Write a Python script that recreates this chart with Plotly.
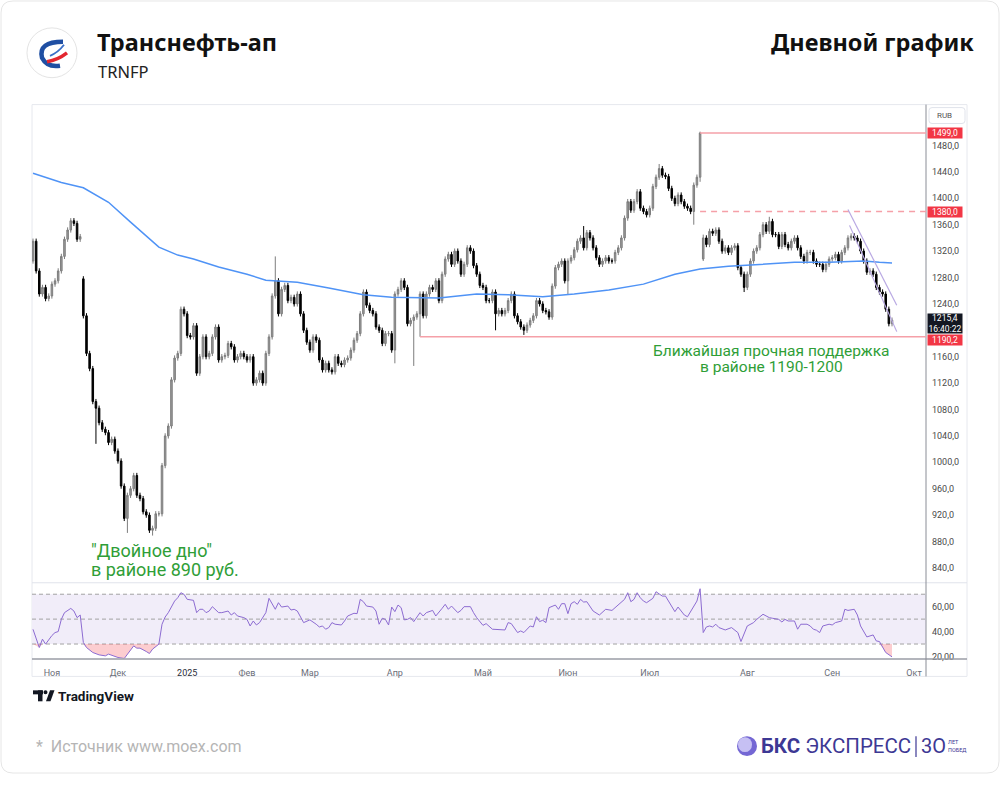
import plotly.graph_objects as go

# ---------------- DATA ----------------
closes = [
    # late Oct - Nov 2024
    1335, 1290, 1255, 1265, 1248, 1252, 1270, 1275, 1290, 1312, 1338, 1352, 1366, 1362, 1338, 1342,
    # decline into the double bottom and recovery
    1222, 1165, 1142, 1092, 1082, 1060, 1050, 1045, 1030, 1035, 1017, 1002, 964, 915, 950, 960,
    980, 950, 945, 925, 920, 897, 900, 922, 922, 995, 1040, 1055, 1125, 1158, 1165, 1232, 1225,
    1192, 1190, 1207, 1135, 1160, 1190, 1160, 1165, 1190, 1205, 1155, 1160, 1162, 1180, 1175,
    1155, 1160, 1165, 1160, 1155, 1160,
    # Feb - Apr 2025
    1120, 1125, 1135, 1120, 1165, 1190, 1252, 1275, 1225, 1262, 1268, 1245, 1250, 1240, 1255,
    1225, 1200, 1182, 1170, 1190, 1185, 1155, 1140, 1150, 1140, 1137, 1160, 1150, 1148, 1155,
    1158, 1170, 1185, 1195, 1225, 1258, 1238, 1230, 1225, 1205, 1200, 1180, 1195, 1195, 1170,
    1255, 1262, 1275, 1265, 1210, 1215, 1220, 1225, 1255, 1222, 1255, 1265, 1262, 1275, 1245,
    1285, 1308, 1315, 1300, 1320, 1305, 1285, 1300, 1325, 1320, 1298, 1285,
    # May - Jul 2025
    1268, 1265, 1245, 1245, 1258, 1225, 1230, 1225, 1230, 1245, 1255, 1222, 1213, 1205, 1200,
    1208, 1215, 1222, 1245, 1240, 1230, 1228, 1220, 1267, 1295, 1300, 1305, 1275, 1305, 1310,
    1322, 1335, 1340, 1325, 1348, 1340, 1325, 1310, 1300, 1305, 1310, 1305, 1305, 1318, 1325,
    1340, 1370, 1395, 1382, 1395, 1410, 1385, 1380, 1375, 1385, 1418, 1432, 1445, 1435, 1433,
    1415, 1400, 1392, 1405, 1395, 1388, 1385, 1380, 1420, 1432, 1499,
    # after the dividend gap, Jul - Sep 2025
    1340, 1330, 1350, 1347, 1352, 1335, 1320, 1325, 1318, 1325, 1328, 1295, 1285, 1265, 1285,
    1305, 1320, 1325, 1345, 1360, 1350, 1365, 1345, 1345, 1327, 1345, 1330, 1325, 1335, 1340,
    1325, 1312, 1305, 1318, 1318, 1305, 1300, 1300, 1292, 1300, 1308, 1310, 1315, 1305, 1318,
    1325, 1340, 1343, 1340, 1335, 1320, 1305, 1288, 1290, 1285, 1265, 1258, 1255, 1232, 1210,
    1215.4,
]
gap_opens = {0: 1305, 16: 1278, 213: 1308}
high_marks = {16: 1282, 77: 1312, 175: 1358, 199: 1452, 212: 1501, 213: 1345, 234: 1372}
low_marks = {20: 1028, 30: 893, 38: 889, 115: 1150, 121: 1146, 123: 1190.2, 147: 1200,
             156: 1193, 170: 1255, 210: 1360, 212: 1425, 213: 1305, 226: 1258}

ma_points = [(0, 1438), (9, 1424), (16, 1416), (24, 1394), (31, 1364), (40, 1326), (46, 1314),
             (51, 1308), (59, 1296), (68, 1285), (74, 1276), (84, 1273), (94, 1264), (105, 1254),
             (114, 1250), (122, 1249), (129, 1249), (141, 1255), (151, 1254), (162, 1251),
             (172, 1255), (183, 1261), (194, 1270), (204, 1285), (212, 1293), (221, 1297),
             (232, 1300), (242, 1303), (253, 1303), (264, 1305), (269, 1303), (273, 1302)]

rsi_points = [
    (0, 41.8), (2, 27.2), (3, 33.9), (4, 29.9), (6, 36.8), (7, 39.2), (8, 40), (9, 49.8), (10, 55.2),
    (12, 58.6), (13, 56.5), (14, 51.2), (15, 53.3), (16, 31.2), (17, 27.2), (19, 23.2), (21, 21.3),
    (23, 20.5), (24, 21.9), (27, 19.2), (29, 18.4), (30, 21.9), (32, 28.5), (33, 26.7), (34, 26.7),
    (36, 24), (37, 22.4), (38, 25.9), (40, 29.9), (41, 45.9), (42, 51.7), (43, 55.2), (44, 60.5),
    (45, 64.5), (46, 67.2), (47, 71.2), (48, 69.9), (49, 65.9), (51, 65.1), (52, 55.2), (53, 57.9),
    (54, 57.9), (55, 55.2), (56, 56.5), (57, 60), (59, 55.2), (60, 55.2), (62, 56.5), (63, 53.3),
    (64, 55.2), (65, 52.5), (67, 51.2), (68, 49.8), (69, 44.5), (70, 48.5), (71, 45.3), (72, 47.2),
    (74, 55.2), (75, 66.7), (77, 57.9), (78, 63.2), (79, 59.7), (81, 60.5), (82, 57.3), (83, 57.9),
    (84, 56.5), (86, 47.2), (87, 48.5), (88, 49.4), (90, 45.9), (91, 43.7), (92, 44.5), (93, 41.9),
    (94, 43.2), (95, 47.2), (96, 45.9), (98, 45.3), (99, 48.5), (100, 52.5), (102, 54.7), (103, 54.4),
    (104, 65.9), (105, 64), (106, 60.5), (108, 59.7), (109, 56.5), (110, 45.9), (111, 50.7),
    (112, 49.8), (113, 45.3), (114, 59.7), (115, 56), (116, 61.3), (117, 59.2), (118, 49.4),
    (119, 49.8), (120, 51.2), (121, 48), (122, 51.9), (123, 55.2), (124, 52.5), (125, 55.2),
    (127, 57), (128, 52.5), (130, 58.6), (131, 61.9), (132, 57.9), (133, 60.5), (135, 55.2),
    (136, 57), (137, 60), (139, 60), (140, 55.2), (141, 51.2), (143, 45), (144, 46.4), (146, 41.9),
    (148, 41.9), (150, 41.3), (151, 47.2), (152, 46.4), (154, 39.2), (155, 40.5), (156, 39.2),
    (158, 44.5), (159, 43.7), (160, 51.9), (161, 48), (162, 49.1), (163, 47.2), (164, 59.2),
    (166, 61.3), (167, 57.9), (168, 62.4), (169, 62.4), (170, 54.4), (171, 62.4), (172, 64),
    (173, 61.9), (174, 65.9), (175, 63.7), (176, 64), (178, 56.5), (180, 53.3), (182, 57.9),
    (184, 57), (186, 61.3), (187, 63.2), (188, 65.9), (189, 71.2), (190, 64), (191, 65.9),
    (192, 71.2), (193, 67.2), (194, 64.5), (195, 63.2), (197, 66.7), (198, 72), (200, 68.5),
    (201, 68.5), (202, 64.5), (204, 56), (205, 59.7), (207, 53.3), (208, 51.9), (210, 60.5),
    (211, 64.5), (212, 74.4), (213, 39.2), (214, 43.7), (215, 44.5), (216, 43.7), (217, 45.9),
    (218, 43.2), (220, 41.3), (222, 43.2), (224, 39.2), (225, 32), (227, 44.5), (229, 47.2),
    (230, 49.8), (232, 53.9), (234, 51.2), (235, 50.7), (237, 49.8), (238, 47.7), (239, 49.8),
    (240, 48.5), (242, 48.5), (243, 41.9), (244, 45.9), (246, 45.9), (247, 44.5), (248, 41.9),
    (249, 41.1), (250, 39.2), (251, 44.5), (253, 45.9), (254, 45.3), (255, 47.2), (257, 48.5),
    (258, 57.9), (259, 57), (261, 57.9), (262, 53.3), (263, 44.5), (264, 40.5), (265, 35.7),
    (267, 37.3), (268, 32.5), (269, 32), (270, 27.2), (271, 23.2), (273, 19.7),
]

month_idx = [6, 27, 49, 68, 88, 115, 143, 170, 196, 227, 254, 280]
month_txt = ["Ноя", "Дек", "<span style='color:#2a2e39'>2025</span>", "Фев", "Мар", "Апр",
             "Май", "Июн", "Июл", "Авг", "Сен", "Окт"]
price_ticks = [840, 880, 920, 960, 1000, 1040, 1080, 1120, 1160, 1240, 1280, 1320, 1360, 1400, 1440, 1480]
rsi_ticks = [20, 40, 60]

level_high, level_high_from = 1499.0, 212
level_mid, level_mid_from = 1380.0, 212
level_support, level_support_from = 1190.2, 123
last_price, last_time = 1215.4, "16:40:22"
channel_upper = [(259, 1383), (274.5, 1238)]
channel_lower = [(259.5, 1359), (274.5, 1198)]

# ---------------- derived OHLC ----------------
n = len(closes)
idx = list(range(n))
opens = [gap_opens.get(i, closes[i - 1] if i > 0 else closes[0]) for i in idx]
highs = [high_marks.get(i, max(opens[i], closes[i]) + 4) for i in idx]
lows = [low_marks.get(i, min(opens[i], closes[i]) - 4) for i in idx]
ma_x = [p[0] for p in ma_points]
ma_y = [p[1] for p in ma_points]
rsi_x = [p[0] for p in rsi_points]
rsi_y = [p[1] for p in rsi_points]

# ---------------- geometry helpers ----------------
W, H = 1000, 785
def px(x): return x / W
def py(y): return 1 - y / H

X_RANGE = [-0.32, 283.8]
PL, PR = 32, 926

fig = go.Figure()

# oversold fill
fig.add_trace(go.Scatter(x=rsi_x, y=[30] * len(rsi_x), xaxis="x2", yaxis="y2", mode="lines",
                         line=dict(width=0, color="rgba(0,0,0,0)"), hoverinfo="skip", showlegend=False))
fig.add_trace(go.Scatter(x=rsi_x, y=[min(v, 30) for v in rsi_y], xaxis="x2", yaxis="y2", mode="lines",
                         line=dict(width=0, color="rgba(0,0,0,0)"), fill="tonexty",
                         fillcolor="rgba(242,54,69,0.25)", hoverinfo="skip", showlegend=False))
fig.add_trace(go.Scatter(x=rsi_x, y=rsi_y, xaxis="x2", yaxis="y2", mode="lines",
                         line=dict(width=1, color="#8c6bd1"), hoverinfo="skip", showlegend=False))

fig.add_trace(go.Scatter(x=ma_x, y=ma_y, mode="lines", line=dict(width=1.5, color="#4f93f6"),
                         hoverinfo="skip", showlegend=False))
fig.add_trace(go.Candlestick(
    x=idx, open=opens, high=highs, low=lows, close=closes, whiskerwidth=0,
    increasing=dict(line=dict(color="#7d7d7d", width=1), fillcolor="#9c9c9c"),
    decreasing=dict(line=dict(color="#000000", width=1), fillcolor="#000000"),
    hoverinfo="skip", showlegend=False))

shapes = []
def rr(x0, y0, x1, y1, r):
    return (f"M {px(x0+r)},{py(y0)} L {px(x1-r)},{py(y0)} Q {px(x1)},{py(y0)} {px(x1)},{py(y0+r)} "
            f"L {px(x1)},{py(y1-r)} Q {px(x1)},{py(y1)} {px(x1-r)},{py(y1)} L {px(x0+r)},{py(y1)} "
            f"Q {px(x0)},{py(y1)} {px(x0)},{py(y1-r)} L {px(x0)},{py(y0+r)} Q {px(x0)},{py(y0)} {px(x0+r)},{py(y0)} Z")

shapes.append(dict(type="path", xref="paper", yref="paper", path=rr(1, 1, 999, 776, 12),
                   line=dict(color="#e6e6e6", width=1), fillcolor="rgba(0,0,0,0)", layer="below"))
# chart frame
shapes.append(dict(type="rect", xref="paper", yref="paper", x0=px(32), x1=px(967), y0=py(679), y1=py(105),
                   line=dict(color="#e6e8ee", width=1), layer="below"))
# rsi band
shapes.append(dict(type="rect", xref="paper", yref="y2", x0=px(PL), x1=px(PR), y0=30, y1=70,
                   line=dict(width=0), fillcolor="#f1edf9", layer="below"))
for lv in (70, 50, 30):
    shapes.append(dict(type="line", xref="paper", yref="y2", x0=px(PL), x1=px(PR), y0=lv, y1=lv,
                       line=dict(color="#a3a3a3", width=1, dash="4px,3px"), layer="below"))
# separators and axis lines
shapes.append(dict(type="line", xref="paper", yref="paper", x0=px(32), x1=px(967), y0=py(585), y1=py(585),
                   line=dict(color="#e0e3eb", width=1)))
shapes.append(dict(type="line", xref="paper", yref="paper", x0=px(32), x1=px(967), y0=py(661.5), y1=py(661.5),
                   line=dict(color="#9a9da6", width=1.5)))
shapes.append(dict(type="line", xref="paper", yref="paper", x0=px(926), x1=px(926), y0=py(105), y1=py(679),
                   line=dict(color="#8a8d96", width=1)))
# RUB box
shapes.append(dict(type="path", xref="paper", yref="paper", path=rr(929, 108, 965, 124, 3),
                   line=dict(color="#e0e3eb", width=1), fillcolor="white"))
# levels
shapes.append(dict(type="line", xref="x", yref="y", x0=level_high_from, x1=X_RANGE[1], y0=level_high, y1=level_high,
                   line=dict(color="#f5a0a8", width=1.5)))
shapes.append(dict(type="line", xref="x", yref="y", x0=level_mid_from, x1=X_RANGE[1], y0=level_mid, y1=level_mid,
                   line=dict(color="#f5a0a8", width=1.5, dash="6px,5px")))
shapes.append(dict(type="line", xref="x", yref="y", x0=level_support_from, x1=X_RANGE[1], y0=level_support,
                   y1=level_support, line=dict(color="#f5a0a8", width=1.5)))
for ch in (channel_upper, channel_lower):
    shapes.append(dict(type="line", xref="x", yref="y", x0=ch[0][0], y0=ch[0][1], x1=ch[1][0], y1=ch[1][1],
                       line=dict(color="#b9a9e3", width=1.2)))

# logo (Transneft)
shapes.append(dict(type="circle", xref="paper", yref="paper", x0=px(27), x1=px(77), y0=py(78), y1=py(28),
                   line=dict(color="#e4e4e4", width=1), fillcolor="white"))
def P(pts):
    s = f"M {px(pts[0][0])},{py(pts[0][1])}"
    for q in range(1, len(pts), 2):
        s += f" Q {px(pts[q][0])},{py(pts[q][1])} {px(pts[q+1][0])},{py(pts[q+1][1])}"
    return s
shapes.append(dict(type="path", xref="paper", yref="paper",
                   path=P([(63, 42), (38, 42), (42, 58), (47, 68), (60, 66)]),
                   line=dict(color="#1f4fa3", width=4.5)))
shapes.append(dict(type="path", xref="paper", yref="paper",
                   path=P([(47, 62), (58, 60), (67, 53)]), line=dict(color="#e3262f", width=3.5)))
shapes.append(dict(type="path", xref="paper", yref="paper",
                   path=P([(50, 56), (58, 53), (64, 45)]), line=dict(color="#3a6fc8", width=1.8)))

# TradingView logo glyph
shapes += [
    dict(type="rect", xref="paper", yref="paper", x0=px(33), x1=px(43), y0=py(697), y1=py(693),
         fillcolor="#131722", line=dict(width=0)),
    dict(type="rect", xref="paper", yref="paper", x0=px(38), x1=px(42.5), y0=py(704), y1=py(693),
         fillcolor="#131722", line=dict(width=0)),
    dict(type="circle", xref="paper", yref="paper", x0=px(43.5), x1=px(47.5), y0=py(697), y1=py(693),
         fillcolor="#131722", line=dict(width=0)),
    dict(type="path", xref="paper", yref="paper",
         path=f"M {px(46)},{py(704)} L {px(50)},{py(693)} L {px(54.5)},{py(693)} L {px(50.5)},{py(704)} Z",
         fillcolor="#131722", line=dict(width=0)),
]
# BKS logo mark
shapes.append(dict(type="circle", xref="paper", yref="paper", x0=px(737), x1=px(757), y0=py(759), y1=py(739),
                   fillcolor="#7467d4", line=dict(width=0)))
shapes.append(dict(type="circle", xref="paper", yref="paper", x0=px(738), x1=px(752), y0=py(755), y1=py(740),
                   fillcolor="#c6c0f3", line=dict(width=0)))
shapes.append(dict(type="line", xref="paper", yref="paper", x0=px(916), x1=px(916), y0=py(739), y1=py(760),
                   line=dict(color="#3d3894", width=1.2)))

ann = []
def txt(x, y, t, size, color, xanchor="left", bold=False, family="Noto Sans", **kw):
    ann.append(dict(xref="paper", yref="paper", x=px(x), y=py(y), text=f"<b>{t}</b>" if bold else t,
                    showarrow=False, xanchor=xanchor, yanchor="middle",
                    font=dict(size=size, color=color, family=family), **kw))

txt(95, 42, "Транснефть-ап", 23.5, "#111111", bold=True)
txt(96, 72, "TRNFP", 16.5, "#222222")
txt(976, 42, "Дневной график", 23.5, "#111111", xanchor="right", bold=True)
txt(935, 116, "RUB", 8, "#555555", family="Roboto")
txt(56, 699, "TradingView", 13.5, "#131722", bold=True, family="Roboto")
txt(34, 749, "*  Источник www.moex.com", 16, "#b5b5b5", family="Roboto")
txt(759, 749, "<b>БКС</b> ЭКСПРЕСС", 20.5, "#3d3894", family="Roboto")
txt(919, 749, "3О", 20, "#3d3894", family="Roboto")
txt(946, 745, "ЛЕТ", 5.5, "#3d3894", family="Roboto")
txt(946, 753, "ПОБЕД", 5.5, "#3d3894", family="Roboto")

green = "#2f9e37"
txt(771, 352, "Ближайшая прочная поддержка", 15.5, green, xanchor="center", family="Roboto")
txt(771, 368, "в районе 1190-1200", 15.5, green, xanchor="center", family="Roboto")
txt(151, 553, "\"Двойное дно\"", 18, green, xanchor="center", family="Roboto")
txt(165, 572, "в районе 890 руб.", 18, green, xanchor="center", family="Roboto")

def price_box(yval, text, bg, h=10):
    ann.append(dict(xref="paper", yref="y", x=px(927), y=yval, xanchor="left", yanchor="middle",
                    text=text, showarrow=False, bgcolor=bg, width=34, height=h, borderpad=0,
                    font=dict(size=8.5, color="white", family="Roboto")))

price_box(level_high, f"{level_high:.1f}".replace(".", ","), "#f23645")
price_box(level_mid, f"{level_mid:.1f}".replace(".", ","), "#f23645")
price_box(1186, f"{level_support:.1f}".replace(".", ","), "#f23645")
price_box(1211, f"{last_price:.1f}".replace(".", ",") + "<br>" + last_time, "#131722", h=19)

fig.update_layout(
    width=W, height=H, margin=dict(l=0, r=0, t=0, b=0),
    paper_bgcolor="white", plot_bgcolor="rgba(0,0,0,0)",
    separators=", ", showlegend=False, dragmode=False,
    shapes=shapes, annotations=ann,
    xaxis=dict(domain=[px(PL), px(PR)], range=X_RANGE, showticklabels=False, showgrid=False,
               zeroline=False, rangeslider=dict(visible=False), fixedrange=True, anchor="y"),
    yaxis=dict(domain=[py(584), py(105)], range=[819, 1542], side="right", tickvals=price_ticks,
               tickformat=".1f", showgrid=False, zeroline=False, ticks="", ticklabelstandoff=5,
               tickfont=dict(size=9, color="#4a4a4a", family="Roboto"), fixedrange=True, anchor="x"),
    xaxis2=dict(domain=[px(PL), px(PR)], range=X_RANGE, tickvals=month_idx, ticktext=month_txt,
                showgrid=False, zeroline=False, ticks="", ticklabelstandoff=8,
                tickfont=dict(size=9, color="#6a6d78", family="Roboto"), fixedrange=True, anchor="y2"),
    yaxis2=dict(domain=[py(661), py(586)], range=[18.4, 78.4], side="right", tickvals=rsi_ticks,
                tickformat=".2f", showgrid=False, zeroline=False, ticks="", ticklabelstandoff=5,
                tickfont=dict(size=9, color="#4a4a4a", family="Roboto"), fixedrange=True, anchor="x2"),
)

fig.write_html("out.html", config={"displayModeBar": False})
